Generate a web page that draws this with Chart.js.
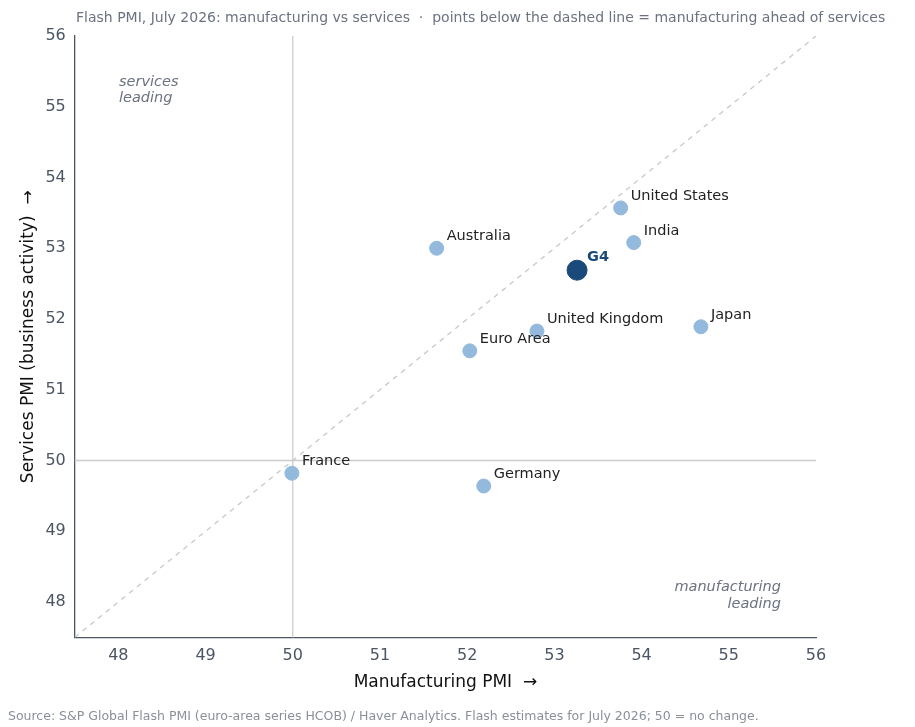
<!DOCTYPE html>
<html><head><meta charset="utf-8">
<script src="https://cdn.jsdelivr.net/npm/chart.js@4"></script>
<style>html,body{margin:0;background:#fff}#wrap{width:915px;height:727px}</style>
</head><body><div id="wrap"><canvas id="c"></canvas></div>
<script>
// data
const countries = ['United States','India','Australia','United Kingdom','Japan','Euro Area','France','Germany'];
const manufacturing = [53.76, 53.91, 51.65, 52.80, 54.68, 52.03, 49.99, 52.19];
const services = [53.57, 53.08, 53.00, 51.83, 51.89, 51.55, 49.82, 49.64];
const g4 = { x: 53.26, y: 52.69 };
const ticks = [48, 49, 50, 51, 52, 53, 54, 55, 56];

const font = 'DejaVu Sans';
Chart.defaults.font.family = font;

// reference lines, point labels, corner notes, title and source
const decor = {
  id: 'decor',
  beforeDatasetsDraw(chart) {
    const { ctx, scales: { x, y }, chartArea: a } = chart;
    ctx.save();
    ctx.strokeStyle = '#cccccc'; ctx.lineWidth = 1.3;
    ctx.beginPath();
    ctx.moveTo(x.getPixelForValue(50), a.top); ctx.lineTo(x.getPixelForValue(50), a.bottom);
    ctx.moveTo(a.left, y.getPixelForValue(50)); ctx.lineTo(a.right, y.getPixelForValue(50));
    ctx.stroke();
    ctx.restore();
  },
  afterDatasetsDraw(chart) {
    const { ctx, scales: { x, y } } = chart;
    ctx.save();
    ctx.font = '14.5px ' + font; ctx.fillStyle = '#222'; ctx.textBaseline = 'alphabetic';
    countries.forEach((n, i) => {
      ctx.fillText(n, x.getPixelForValue(manufacturing[i]) + 10, y.getPixelForValue(services[i]) - 8);
    });
    ctx.font = 'bold 14.5px ' + font; ctx.fillStyle = '#1a4a7a';
    ctx.fillText('G4', x.getPixelForValue(g4.x) + 10, y.getPixelForValue(g4.y) - 9);
    ctx.font = 'italic 14.5px ' + font; ctx.fillStyle = '#6b7280';
    ctx.fillText('services', 119, 86); ctx.fillText('leading', 119, 102);
    ctx.textAlign = 'right';
    ctx.fillText('manufacturing', 781, 591); ctx.fillText('leading', 781, 608);
    ctx.textAlign = 'left';
    ctx.font = '14px ' + font; ctx.fillStyle = '#6b7280';
    ctx.fillText('Flash PMI, July 2026: manufacturing vs services  ·  points below the dashed line = manufacturing ahead of services', 76, 22);
    ctx.font = '12.5px ' + font; ctx.fillStyle = '#8a8f98';
    ctx.fillText('Source: S&P Global Flash PMI (euro-area series HCOB) / Haver Analytics. Flash estimates for July 2026; 50 = no change.', 8, 720);
    ctx.restore();
  }
};

new Chart(document.getElementById('c'), {
  type: 'scatter',
  data: {
    datasets: [
      { type: 'line', data: [{ x: 47.5, y: 47.5 }, { x: 56, y: 56 }], borderColor: '#c8c8c8',
        borderDash: [5, 5], borderWidth: 1.3, pointRadius: 0 },
      { data: countries.map((n, i) => ({ x: manufacturing[i], y: services[i] })),
        backgroundColor: '#93b9dc', borderColor: '#93b9dc', pointRadius: 7, pointHoverRadius: 7 },
      { data: [g4], backgroundColor: '#1a4a7a', borderColor: '#1a4a7a', pointRadius: 10, pointHoverRadius: 10 }
    ]
  },
  options: {
    responsive: true, maintainAspectRatio: false, animation: false,
    layout: { padding: { top: 36, right: 99, bottom: 30, left: 14 } },
    plugins: { legend: { display: false }, tooltip: { enabled: false } },
    scales: {
      x: { type: 'linear', min: 47.5, max: 56, afterBuildTicks: s => { s.ticks = ticks.map(v => ({ value: v })); },
        grid: { display: false, drawTicks: true, tickLength: 6, tickColor: '#4b5563' }, border: { color: '#4b5563', width: 1.3 },
        ticks: { color: '#4b5563', font: { size: 16 } },
        title: { display: true, text: 'Manufacturing PMI  →', color: '#111', font: { size: 17 }, padding: { top: 4 } } },
      y: { type: 'linear', min: 47.5, max: 56, afterBuildTicks: s => { s.ticks = ticks.map(v => ({ value: v })); },
        grid: { display: false, drawTicks: true, tickLength: 6, tickColor: '#4b5563' }, border: { color: '#4b5563', width: 1.3 },
        ticks: { color: '#4b5563', font: { size: 16 } },
        title: { display: true, text: 'Services PMI (business activity)  →', color: '#111', font: { size: 17 } } }
    }
  },
  plugins: [decor]
});
</script></body></html>
